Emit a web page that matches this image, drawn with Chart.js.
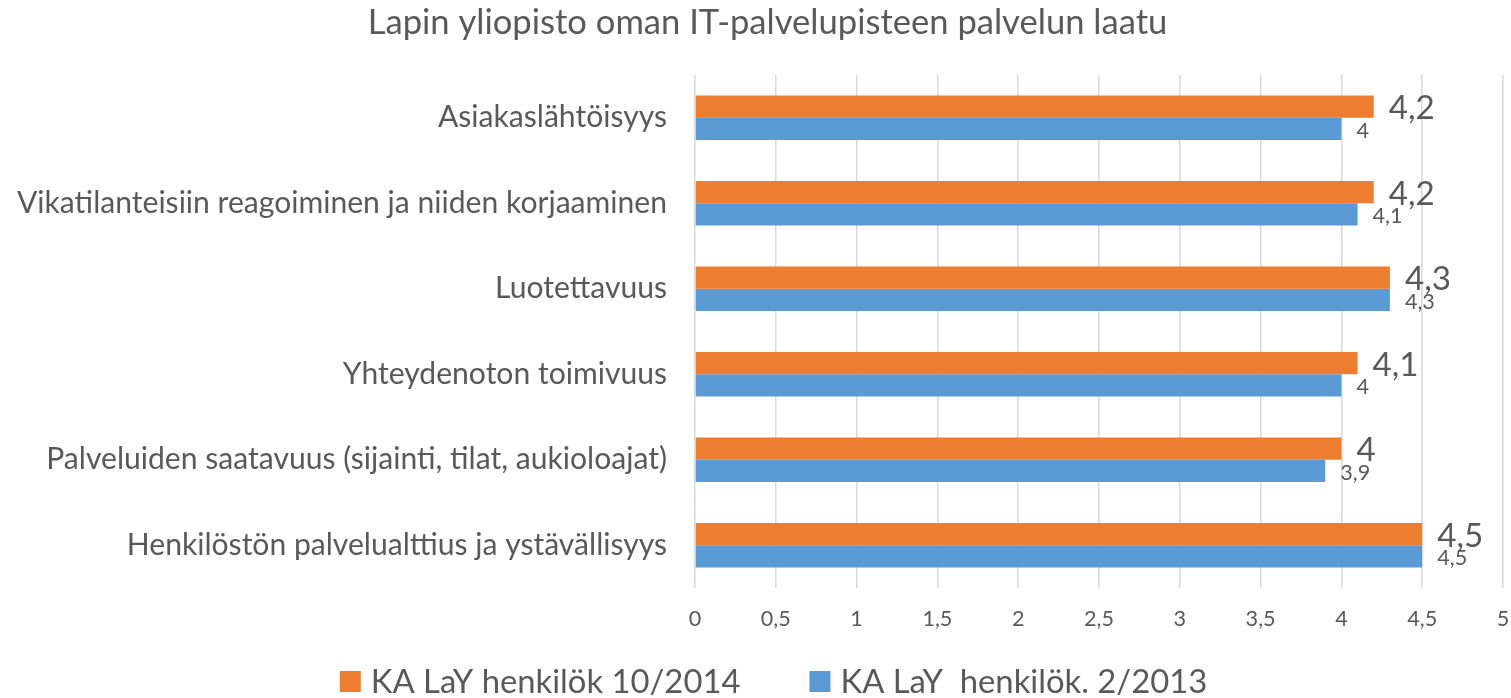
<!DOCTYPE html>
<html>
<head>
<meta charset="utf-8">
<script src="https://cdn.jsdelivr.net/npm/chart.js@4/dist/chart.umd.min.js"></script>
<style>
html,body{margin:0;padding:0;background:#fff;overflow:hidden}
#wrap{width:1511px;height:698px;position:relative}
</style>
</head>
<body>
<div id="wrap"><canvas id="c" width="1511" height="698"></canvas></div>
<script>
// ---- data ----
const titleText = 'Lapin yliopisto oman IT-palvelupisteen palvelun laatu';
const categories = [
  'Asiakaslähtöisyys',
  'Vikatilanteisiin reagoiminen ja niiden korjaaminen',
  'Luotettavuus',
  'Yhteydenoton toimivuus',
  'Palveluiden saatavuus (sijainti, tilat, aukioloajat)',
  'Henkilöstön palvelualttius ja ystävällisyys'
];
const seriesNames = ['KA LaY henkilök 10/2014', 'KA LaY  henkilök. 2/2013'];
const values2014 = [4.2, 4.2, 4.3, 4.1, 4.0, 4.5];
const values2013 = [4.0, 4.1, 4.3, 4.0, 3.9, 4.5];
const xTickLabels = ['0', '0,5', '1', '1,5', '2', '2,5', '3', '3,5', '4', '4,5', '5'];

// ---- styles ----
const FAMILY = 'Lato';
const TEXT = '#595959';
const ORANGE = '#ED7D31';
const BLUE = '#5B9BD5';
const GRID = '#D9D9D9';

const mctx = document.createElement('canvas').getContext('2d');
function fitSize(text, target) {
  mctx.font = '100px ' + FAMILY;
  const w = mctx.measureText(text).width;
  return Math.round(1000 * target / w) / 10;
}
const fmt = v => String(v).replace('.', ',');

function build() {
  const titleSize = fitSize(titleText, 801);
  const catSize = fitSize(categories[1], 650);
  const tickSize = fitSize('0,5', 30);
  const bigLabelSize = fitSize('4,2', 46);
  const smallLabelSize = fitSize('4,1', 30);
  const legendSize = fitSize(seriesNames[0], 370);

  const PLOT_TOP = 75, PLOT_BOTTOM = 588, PLOT_LEFT = 695;
  const PAD_LEFT = 6, PAD_RIGHT = 8;
  const X_AXIS_H = 60;
  const TITLE_CENTER = 767.5;
  const titleLine = titleSize * 1.2;
  const titlePadTop = Math.max(0, 23 - titleLine / 2);
  const titlePadBottom = PLOT_TOP - titlePadTop - titleLine;

  const titleShift = {
    id: 'titleShift',
    afterLayout(chart) {
      const t = chart.titleBlock;
      if (t) {
        const half = (t.right - t.left) / 2;
        t.left = TITLE_CENTER - half;
        t.right = TITLE_CENTER + half;
      }
    }
  };

  const valueLabels = {
    id: 'valueLabels',
    afterDatasetsDraw(chart) {
      const ctx = chart.ctx;
      ctx.save();
      ctx.fillStyle = TEXT;
      ctx.textAlign = 'left';
      ctx.textBaseline = 'middle';
      chart.data.datasets.forEach((ds, i) => {
        const meta = chart.getDatasetMeta(i);
        ctx.font = (i === 0 ? bigLabelSize : smallLabelSize) + 'px ' + FAMILY;
        meta.data.forEach((bar, j) => {
          ctx.fillText(fmt(ds.data[j]), bar.x + 15, bar.y + 2);
        });
      });
      ctx.restore();
    }
  };

  const customLegend = {
    id: 'customLegend',
    afterDraw(chart) {
      const ctx = chart.ctx;
      ctx.save();
      ctx.font = legendSize + 'px ' + FAMILY;
      ctx.textBaseline = 'middle';
      ctx.textAlign = 'left';
      const box = 21, gapText = 10, gapItem = 69;
      const items = chart.data.datasets.map(ds => ({
        text: ds.label, color: ds.backgroundColor, w: ctx.measureText(ds.label).width
      }));
      let total = 0;
      items.forEach((it, k) => { total += box + gapText + it.w + (k ? gapItem : 0); });
      let x = 773.5 - total / 2;
      const y = 681.5;
      items.forEach(it => {
        ctx.fillStyle = it.color;
        ctx.fillRect(x, y - box / 2, box, box);
        ctx.fillStyle = TEXT;
        ctx.fillText(it.text, x + box + gapText, y + 1);
        x += box + gapText + it.w + gapItem;
      });
      ctx.restore();
    }
  };

  new Chart(document.getElementById('c'), {
    type: 'bar',
    data: {
      labels: categories,
      datasets: [
        { label: seriesNames[0], data: values2014, backgroundColor: ORANGE, borderWidth: 0 },
        { label: seriesNames[1], data: values2013, backgroundColor: BLUE, borderWidth: 0 }
      ]
    },
    options: {
      indexAxis: 'y',
      responsive: false,
      animation: false,
      datasets: { bar: { barPercentage: 1, categoryPercentage: 0.518 } },
      layout: { padding: { left: PAD_LEFT, right: PAD_RIGHT, top: 0, bottom: 698 - PLOT_BOTTOM - X_AXIS_H } },
      plugins: {
        legend: { display: false },
        tooltip: { enabled: false },
        title: {
          display: true,
          text: titleText,
          color: TEXT,
          font: { family: FAMILY, size: titleSize, weight: 'normal', lineHeight: 1.2 },
          padding: { top: titlePadTop, bottom: titlePadBottom }
        }
      },
      scales: {
        x: {
          min: 0, max: 5,
          grid: { color: GRID, lineWidth: 1.5, drawTicks: false },
          border: { display: false },
          ticks: {
            stepSize: 0.5,
            padding: 18,
            color: TEXT,
            font: { family: FAMILY, size: tickSize },
            callback: v => xTickLabels[Math.round(v * 2)]
          },
          afterFit: s => { s.height = X_AXIS_H; s.paddingRight = 0; s.paddingLeft = 0; }
        },
        y: {
          grid: { display: false, drawTicks: false },
          border: { display: false },
          ticks: {
            padding: 28,
            color: TEXT,
            font: { family: FAMILY, size: catSize }
          },
          afterFit: s => { s.width = PLOT_LEFT - PAD_LEFT; s.paddingTop = 0; s.paddingBottom = 0; }
        }
      }
    },
    plugins: [titleShift, valueLabels, customLegend]
  });
}

if (document.fonts && document.fonts.load) {
  document.fonts.load('20px ' + FAMILY).then(build, build);
} else { build(); }
</script>
</body>
</html>
